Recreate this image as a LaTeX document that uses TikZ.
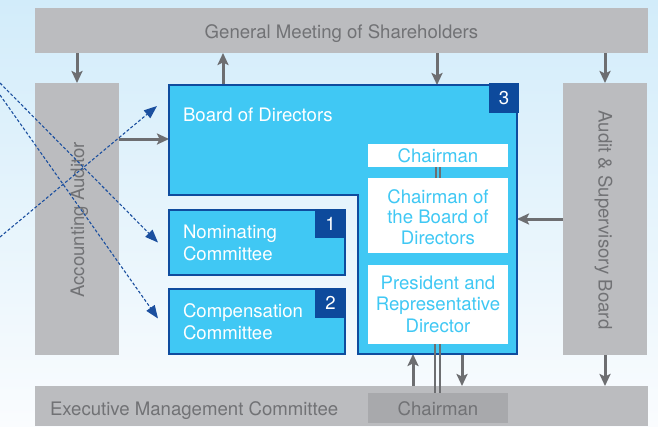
\documentclass[tikz,border=0pt]{standalone}
\usepackage{fontspec}
\setmainfont{TeX Gyre Heros}
\usetikzlibrary{arrows.meta,calc}
\definecolor{bgtop}{RGB}{210,236,250}
\definecolor{bgmid}{RGB}{234,245,252}
\definecolor{bgbot}{RGB}{250,252,254}
\definecolor{greyfill}{RGB}{187,188,191}
\definecolor{greydark}{RGB}{168,169,172}
\definecolor{greytext}{RGB}{113,114,117}
\definecolor{arrgrey}{RGB}{109,110,113}
\definecolor{bluefill}{RGB}{64,200,244}
\definecolor{blueedge}{RGB}{15,76,158}
\definecolor{numblue}{RGB}{13,74,156}
\definecolor{dashblue}{RGB}{27,79,159}
\begin{document}
\begin{tikzpicture}[x=1pt,y=-1pt,
  every node/.style={inner sep=0pt,outer sep=0pt},
  txt/.style={font=\fontsize{18.6}{22}\selectfont},
  greybox/.style={fill=greyfill,draw=none,rectangle},
  darkbox/.style={fill=greydark,draw=none,rectangle},
  bluebox/.style={fill=bluefill,draw=blueedge,line width=1.8pt,rectangle},
  whitebox/.style={fill=white,draw=none,rectangle,text=bluefill,align=center},
  numbox/.style={fill=numblue,draw=none,rectangle,text=white},
  greytxt/.style={txt,text=greytext},
  whitetxt/.style={txt,text=white,align=left},
  arr/.style={draw=arrgrey,line width=3pt,-{Stealth[width=11pt,length=12pt,inset=2.5pt]}},
  dbl/.style={draw=arrgrey,line width=1.6pt},
  dasharr/.style={draw=dashblue,line width=1.1pt,dash pattern=on 3pt off 2pt,-{Triangle[width=10pt,length=13pt]}}
]
\useasboundingbox (0,0) rectangle (658,426);
\fill[top color=bgtop,middle color=bgmid,bottom color=bgbot] (0,0) rectangle (658,426);

% grey boxes
\node[greybox,minimum width=613pt,minimum height=45pt] (gm) at (341.5,30.5) {};
\node[greytxt,anchor=base] (gmt) at (341.5,38) {General Meeting of Shareholders};
\node[greybox,minimum width=84pt,minimum height=272pt] (aa) at (77,219) {};
\node[greytxt,rotate=90,anchor=base] (aat) at (84,220) {Accounting Auditor};
\node[greybox,minimum width=84pt,minimum height=272pt] (asb) at (605,219) {};
\node[greytxt,rotate=-90,anchor=base] (asbt) at (598.5,220) {Audit \& Supervisory Board};
\node[greybox,minimum width=613pt,minimum height=40pt] (emc) at (341.5,406) {};
\node[greytxt,anchor=base west] (emct) at (50,415) {Executive Management Committee};
\node[darkbox,minimum width=140pt,minimum height=30pt] (emcchair) at (438,408) {};
\node[greytxt,anchor=base] (emcchairt) at (438,415) {Chairman};

% helper coordinates
\coordinate (x223) at (223,0);
\coordinate (x437) at (437,0);
\coordinate (x413) at (413,0);
\coordinate (x462) at (462,0);
\coordinate (y139) at (0,139);
\coordinate (y219) at (0,219);

% board of directors region (invisible frame)
\node[minimum width=348pt,minimum height=269pt] (bod) at (343,219.5) {};

% grey arrows
\draw[arr] (gm.south -| aa.north) -- (aa.north);
\draw[arr] (bod.north -| x223) -- (gm.south -| x223);
\draw[arr] (gm.south -| x437) -- (bod.north -| x437);
\draw[arr] (gm.south -| asb.north) -- (asb.north);
\draw[arr] (asb.south) -- (emc.north -| asb.south);
\draw[arr] (aa.east |- y139) -- (bod.west |- y139);
\draw[arr] (asb.west |- y219) -- (bod.east |- y219);
\draw[arr] (emc.north -| x413) -- (bod.south -| x413);
\draw[arr] (bod.south -| x462) -- (emc.north -| x462);

% board polygon
\draw[fill=bluefill,draw=blueedge,line width=1.8pt,line join=miter]
  (bod.north west) -- (bod.north east) -- (bod.south east)
  -- ($(bod.south west)+(189,0)$) -- ($(bod.north west)+(189,110)$)
  -- ($(bod.north west)+(0,110)$) -- cycle;
\node[whitetxt,anchor=base west] (bodt) at (183,121) {Board of Directors};
\node[numbox,minimum width=30pt,minimum height=30pt] (n3) at (504,98) {};
\node[txt,text=white] at (n3) {3};

% inner white boxes
\node[whitebox,minimum width=140pt,minimum height=23pt] (chair) at (438,155.5) {};
\node[txt,text=bluefill,anchor=base] at (438,162) {Chairman};
\node[whitebox,minimum width=140pt,minimum height=75pt] (cbod) at (438,215.5) {};
\node[font=\fontsize{18.6}{20.5}\selectfont,text=bluefill,align=center] at (438,217) {Chairman of\\the Board of\\Directors};
\node[whitebox,minimum width=140pt,minimum height=79pt] (pres) at (438,304.5) {};
\node[font=\fontsize{18.6}{21.5}\selectfont,text=bluefill,align=center] at (438,304) {President and\\Representative\\Director};

% double lines
\draw[dbl] ([xshift=-2.2pt]chair.south) -- ([xshift=-2.2pt]cbod.north);
\draw[dbl] ([xshift=2.2pt]chair.south) -- ([xshift=2.2pt]cbod.north);
\draw[dbl] ([xshift=-3pt]pres.south) -- ([xshift=-3pt]emcchair.north);
\draw[dbl] ([xshift=2pt]pres.south) -- ([xshift=2pt]emcchair.north);

% committees
\node[bluebox,minimum width=176pt,minimum height=65pt] (nom) at (257,242.5) {};
\node[whitetxt,anchor=west] at (183,243.3) {Nominating\\Committee};
\node[numbox,minimum width=31pt,minimum height=29pt] (n1) at (330.5,223.5) {};
\node[txt,text=white] at (n1) {1};
\node[bluebox,minimum width=176pt,minimum height=65pt] (comp) at (257,321.5) {};
\node[whitetxt,anchor=west] at (183,322) {Compensation\\Committee};
\node[numbox,minimum width=31pt,minimum height=30pt] (n2) at (330.5,303) {};
\node[txt,text=white] at (n2) {2};

% dashed arrows
\coordinate (s1) at (0,237);
\coordinate (s2) at (0,83);
\coordinate (s3) at (0,95);
\draw[dasharr] (s1) -- ([shift={(-12pt,-21pt)}]bod.north west);
\draw[dasharr] (s2) -- ([xshift=-11pt]nom.west);
\draw[dasharr] (s3) -- ([shift={(-11pt,3pt)}]comp.west);
\end{tikzpicture}
\end{document}
